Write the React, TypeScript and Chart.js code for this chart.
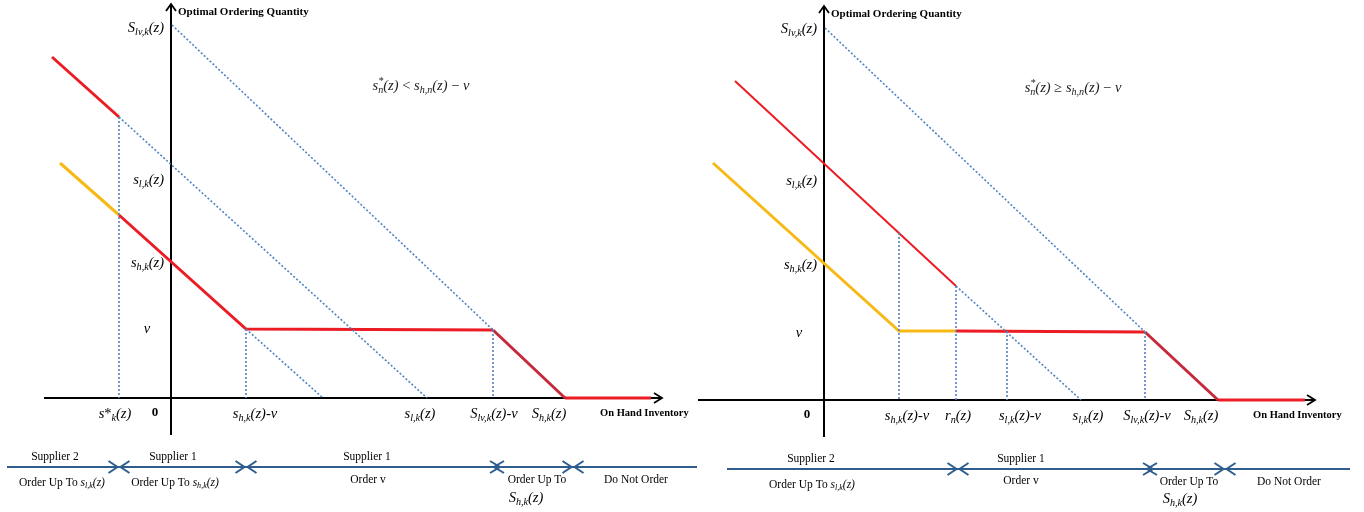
import { useEffect, useRef } from "react";
import { Chart, registerables } from "chart.js";
Chart.register(...registerables);

type P = [number, number];

// ---------- shared axis extents (data units; origin = axes crossing) ----------
const xAxisExtent: P = [-127, 491];
const yAxisExtent: P = [-37, 394];

// ---------- LEFT PANEL ----------
const leftView = { xMin: -171, xMax: 527, yMin: -114, yMax: 398 };
const L_dottedTop: P[] = [[1, 373], [322, 68]];
const L_dottedUpper: P[] = [[-52, 281], [256, 0]];
const L_dottedLower: P[] = [[75, 69], [152, 0]];
const L_vertA: P[] = [[-52, 281], [-52, 0]];
const L_vertB: P[] = [[75, 69], [75, 0]];
const L_vertC: P[] = [[322, 68], [322, 0]];
const L_redUpper: P[] = [[-119, 341], [-52, 281]];
const L_yellow: P[] = [[-111, 235], [-52, 183]];
const L_redPolicy: P[] = [[-52, 183], [75, 69], [322, 68]];
const L_redDown: P[] = [[322, 68], [394, 0]];
const L_redAxis: P[] = [[394, 0], [480, 0]];

const L_yTickText = ["$S_{lv,k}(z)$", "$s_{l,k}(z)$", "$s_{h,k}(z)$"];
const L_yTickValues = [371, 219, 136];
const L_vLabel: P = [-24, 70];
const L_xTickText = ["$s$*$_{k}(z)$", "$s_{h,k}(z)$-$v$", "$s_{l,k}(z)$", "$S_{lv,k}(z)$-$v$", "$S_{h,k}(z)$"];
const L_xTickValues = [-56, 84, 249, 323, 378];
const L_zeroAt = -16;
const L_formula = "$s_n^*(z)$ < $s_{h,n}(z)$ − $v$";
const L_formulaAt: P = [250, 313];

const L_timelineSpan: P = [-164, 526];
const L_meets = [-52, 75, 402];
const L_crosses = [326];
const L_aboveText = ["Supplier 2", "Supplier 1", "Supplier 1"];
const L_aboveAt = [-116, 2, 196];
const L_belowText = ["Order Up To $s_{l,k}(z)$", "Order Up To $s_{h,k}(z)$", "Order v", "Order Up To", "Do Not Order"];
const L_belowAt = [-109, 4, 197, 366, 465];
const L_belowY = [-84, -84, -81, -81, -81];
const L_extraAt: P = [355, -99];

// ---------- RIGHT PANEL ----------
const rightView = { xMin: -126, xMax: 540, yMin: -112, yMax: 400 };
const R_dottedTop: P[] = [[1, 372], [321, 68]];
const R_dottedUpper: P[] = [[132, 114], [257, 0]];
const R_vertA: P[] = [[75, 167], [75, 0]];
const R_vertB: P[] = [[132, 114], [132, 0]];
const R_vertC: P[] = [[183, 69], [183, 0]];
const R_vertD: P[] = [[321, 68], [321, 0]];
const R_redUpper: P[] = [[-89, 319], [132, 114]];
const R_yellow: P[] = [[-111, 237], [75, 69], [132, 69]];
const R_redFlat: P[] = [[132, 69], [321, 68]];
const R_redDown: P[] = [[321, 68], [394, 0]];
const R_redAxis: P[] = [[394, 0], [481, 0]];

const R_yTickText = ["$S_{lv,k}(z)$", "$s_{l,k}(z)$", "$s_{h,k}(z)$"];
const R_yTickValues = [372, 220, 136];
const R_vLabel: P = [-25, 68];
const R_xTickText = ["$s_{h,k}(z)$-$v$", "$r_{n}(z)$", "$s_{l,k}(z)$-$v$", "$s_{l,k}(z)$", "$S_{lv,k}(z)$-$v$", "$S_{h,k}(z)$"];
const R_xTickValues = [83, 134, 196, 264, 323, 377];
const R_zeroAt = -17;
const R_formula = "$s_n^*(z)$ ≥ $s_{h,n}(z)$ − $v$";
const R_formulaAt: P = [249, 313];

const R_timelineSpan: P = [-97, 526];
const R_meets = [134, 401];
const R_crosses = [326];
const R_aboveText = ["Supplier 2", "Supplier 1"];
const R_aboveAt = [-13, 197];
const R_belowText = ["Order Up To $s_{l,k}(z)$", "Order v", "Order Up To", "Do Not Order"];
const R_belowAt = [-12, 197, 365, 465];
const R_belowY = [-84, -80, -81, -81];
const R_extraAt: P = [356, -98];

// ---------- styling ----------
const FONT = '"Liberation Serif", "Times New Roman", serif';
const RED = "#ec1c24";
const RED_DARK = "#c42a3c";
const YELLOW = "#f6b915";
const DOT = "#4f83c4";
const TIMELINE = "#2e5d8e";

type Seg = { text: string; italic: boolean; bold: boolean; level: number; size: number; stack?: boolean };

function parseRich(str: string, size: number, bold: boolean): Seg[] {
  const segs: Seg[] = [];
  let italic = false;
  let i = 0;
  while (i < str.length) {
    const c = str[i];
    if (c === "$") { italic = !italic; i++; continue; }
    if (c === "_" || c === "^") {
      let content = "";
      if (str[i + 1] === "{") { const j = str.indexOf("}", i); content = str.slice(i + 2, j); i = j + 1; }
      else { content = str[i + 1]; i += 2; }
      const prev = segs[segs.length - 1];
      segs.push({ text: content, italic, bold, level: c === "_" ? -1 : 1, size: size * 0.7, stack: c === "^" && !!prev && prev.level === -1 });
      continue;
    }
    const last = segs[segs.length - 1];
    if (last && last.level === 0 && last.italic === italic) last.text += c;
    else segs.push({ text: c, italic, bold, level: 0, size });
    i++;
  }
  return segs;
}
const fontOf = (s: Seg) => `${s.italic ? "italic " : ""}${s.bold ? "bold " : ""}${s.size}px ${FONT}`;

function drawRich(ctx: CanvasRenderingContext2D, str: string, px: number, py: number, align: string, size: number, bold = false, color = "#000") {
  const segs = parseRich(str, size, bold);
  let x = 0, subStart = 0, subEnd = 0;
  const placed: { s: Seg; dx: number }[] = [];
  for (const s of segs) {
    ctx.font = fontOf(s);
    const w = ctx.measureText(s.text).width;
    if (s.level === 1 && s.stack) { placed.push({ s, dx: subStart }); x = Math.max(subEnd, subStart + w); }
    else { placed.push({ s, dx: x }); if (s.level === -1) { subStart = x; subEnd = x + w; } x += w; }
  }
  const x0 = align === "left" ? px : align === "right" ? px - x : px - x / 2;
  const base = py + size * 0.32;
  ctx.save();
  ctx.fillStyle = color;
  ctx.textAlign = "left";
  ctx.textBaseline = "alphabetic";
  for (const { s, dx } of placed) {
    ctx.font = fontOf(s);
    const dy = s.level === -1 ? size * 0.24 : s.level === 1 ? -size * 0.42 : 0;
    ctx.fillText(s.text, x0 + dx, base + dy);
  }
  ctx.restore();
}

type Panel = {
  view: { xMin: number; xMax: number; yMin: number; yMax: number };
  dotted: P[][];
  colored: { pts: P[]; color: string; width: number }[];
  yTickText: string[]; yTickValues: number[]; vLabel: P;
  xTickText: string[]; xTickValues: number[]; zeroAt: number;
  formula: string; formulaAt: P;
  span: P; meets: number[]; crosses: number[];
  aboveText: string[]; aboveAt: number[];
  belowText: string[]; belowAt: number[]; belowY: number[]; extraAt: P;
};

const leftPanel: Panel = {
  view: leftView,
  dotted: [L_dottedTop, L_dottedUpper, L_dottedLower, L_vertA, L_vertB, L_vertC],
  colored: [
    { pts: L_redUpper, color: RED, width: 3 },
    { pts: L_yellow, color: YELLOW, width: 3 },
    { pts: L_redPolicy, color: RED, width: 3 },
    { pts: L_redDown, color: RED_DARK, width: 3 },
    { pts: L_redAxis, color: RED, width: 3 },
  ],
  yTickText: L_yTickText, yTickValues: L_yTickValues, vLabel: L_vLabel,
  xTickText: L_xTickText, xTickValues: L_xTickValues, zeroAt: L_zeroAt,
  formula: L_formula, formulaAt: L_formulaAt,
  span: L_timelineSpan, meets: L_meets, crosses: L_crosses,
  aboveText: L_aboveText, aboveAt: L_aboveAt,
  belowText: L_belowText, belowAt: L_belowAt, belowY: L_belowY, extraAt: L_extraAt,
};

const rightPanel: Panel = {
  view: rightView,
  dotted: [R_dottedTop, R_dottedUpper, R_vertA, R_vertB, R_vertC, R_vertD],
  colored: [
    { pts: R_redUpper, color: RED, width: 2 },
    { pts: R_yellow, color: YELLOW, width: 3 },
    { pts: R_redFlat, color: RED, width: 3 },
    { pts: R_redDown, color: RED_DARK, width: 3 },
    { pts: R_redAxis, color: RED, width: 3 },
  ],
  yTickText: R_yTickText, yTickValues: R_yTickValues, vLabel: R_vLabel,
  xTickText: R_xTickText, xTickValues: R_xTickValues, zeroAt: R_zeroAt,
  formula: R_formula, formulaAt: R_formulaAt,
  span: R_timelineSpan, meets: R_meets, crosses: R_crosses,
  aboveText: R_aboveText, aboveAt: R_aboveAt,
  belowText: R_belowText, belowAt: R_belowAt, belowY: R_belowY, extraAt: R_extraAt,
};

function panelPlugin(p: Panel) {
  const chev = (ctx: CanvasRenderingContext2D, tipX: number, y: number, dir: number, len = 8, half = 5) => {
    ctx.beginPath();
    ctx.moveTo(tipX - dir * len, y - half);
    ctx.lineTo(tipX, y);
    ctx.lineTo(tipX - dir * len, y + half);
    ctx.stroke();
  };
  return {
    id: "panelDecor",
    beforeDatasetsDraw(chart: any) {
      const ctx: CanvasRenderingContext2D = chart.ctx;
      const xs = chart.scales.x, ys = chart.scales.y;
      const X = (v: number) => xs.getPixelForValue(v);
      const Y = (v: number) => ys.getPixelForValue(v);
      ctx.save();
      ctx.strokeStyle = "#000";
      ctx.lineWidth = 2;
      ctx.lineCap = "butt";
      ctx.beginPath(); ctx.moveTo(X(0), Y(yAxisExtent[0])); ctx.lineTo(X(0), Y(yAxisExtent[1])); ctx.stroke();
      ctx.lineWidth = 1.8;
      ctx.beginPath();
      ctx.moveTo(X(0) - 5, Y(yAxisExtent[1]) + 7); ctx.lineTo(X(0), Y(yAxisExtent[1])); ctx.lineTo(X(0) + 5, Y(yAxisExtent[1]) + 7);
      ctx.stroke();
      ctx.lineWidth = 2;
      ctx.beginPath(); ctx.moveTo(X(xAxisExtent[0]), Y(0)); ctx.lineTo(X(xAxisExtent[1]), Y(0)); ctx.stroke();
      ctx.lineWidth = 1.8;
      chev(ctx, X(xAxisExtent[1]), Y(0), 1, 8, 5);
      ctx.restore();
    },
    afterDatasetsDraw(chart: any) {
      const ctx: CanvasRenderingContext2D = chart.ctx;
      const xs = chart.scales.x, ys = chart.scales.y;
      const X = (v: number) => xs.getPixelForValue(v);
      const Y = (v: number) => ys.getPixelForValue(v);
      drawRich(ctx, "Optimal Ordering Quantity", X(7), Y(387), "left", 11, true);
      drawRich(ctx, "On Hand Inventory", X(429), Y(-15), "left", 10.5, true);
      p.yTickText.forEach((t, i) => drawRich(ctx, t, X(-7), Y(p.yTickValues[i]), "right", 14.5));
      drawRich(ctx, "$v$", X(p.vLabel[0]), Y(p.vLabel[1]), "center", 14.5);
      p.xTickText.forEach((t, i) => drawRich(ctx, t, X(p.xTickValues[i]), Y(-15), "center", 14.5));
      drawRich(ctx, "0", X(p.zeroAt), Y(-14), "center", 13, true);
      drawRich(ctx, p.formula, X(p.formulaAt[0]), Y(p.formulaAt[1]), "center", 14.5, false, "#222");
      const ty = Y(-69);
      ctx.save();
      ctx.strokeStyle = TIMELINE;
      ctx.lineWidth = 2;
      ctx.beginPath(); ctx.moveTo(X(p.span[0]), ty); ctx.lineTo(X(p.span[1]), ty); ctx.stroke();
      p.meets.forEach((b) => { chev(ctx, X(b) - 1.5, ty, 1, 9, 6); chev(ctx, X(b) + 1.5, ty, -1, 9, 6); });
      p.crosses.forEach((b) => { chev(ctx, X(b) + 3, ty, 1, 10, 6); chev(ctx, X(b) - 3, ty, -1, 10, 6); });
      ctx.restore();
      p.aboveText.forEach((t, i) => drawRich(ctx, t, X(p.aboveAt[i]), Y(-58), "center", 11.5));
      p.belowText.forEach((t, i) => drawRich(ctx, t, X(p.belowAt[i]), Y(p.belowY[i]), "center", 11.5));
      drawRich(ctx, "$S_{h,k}(z)$", X(p.extraAt[0]), Y(p.extraAt[1]), "center", 14.5);
    },
  };
}

function buildChart(canvas: HTMLCanvasElement, p: Panel) {
  const toXY = (pts: P[]) => pts.map(([x, y]) => ({ x, y }));
  const datasets: any[] = [
    ...p.dotted.map((pts) => ({
      data: toXY(pts), borderColor: DOT, borderWidth: 1.6, borderDash: [2, 2], pointRadius: 0, fill: false, tension: 0,
    })),
    ...p.colored.map((c) => ({
      data: toXY(c.pts), borderColor: c.color, borderWidth: c.width, pointRadius: 0, fill: false, tension: 0, borderJoinStyle: "miter",
    })),
  ];
  return new Chart(canvas, {
    type: "line",
    data: { datasets },
    options: {
      responsive: false,
      animation: false,
      events: [],
      layout: { padding: 0 },
      plugins: { legend: { display: false }, tooltip: { enabled: false }, title: { display: false } },
      scales: {
        x: { type: "linear", min: p.view.xMin, max: p.view.xMax, display: false },
        y: { type: "linear", min: p.view.yMin, max: p.view.yMax, display: false },
      },
    } as any,
    plugins: [panelPlugin(p) as any],
  });
}

export default function App() {
  const leftRef = useRef<HTMLCanvasElement>(null);
  const rightRef = useRef<HTMLCanvasElement>(null);
  useEffect(() => {
    const a = buildChart(leftRef.current!, leftPanel);
    const b = buildChart(rightRef.current!, rightPanel);
    return () => { a.destroy(); b.destroy(); };
  }, []);
  return (
    <div style={{ position: "absolute", left: 0, top: 0, width: 1364, height: 512, display: "flex", background: "#fff" }}>
      <canvas ref={leftRef} width={698} height={512} style={{ display: "block", width: 698, height: 512 }} />
      <canvas ref={rightRef} width={666} height={512} style={{ display: "block", width: 666, height: 512 }} />
    </div>
  );
}
